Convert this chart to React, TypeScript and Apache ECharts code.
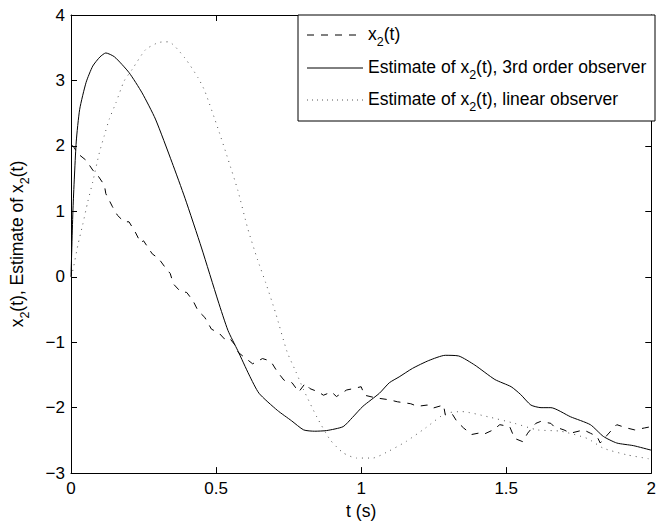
import React, { useEffect, useRef } from "react";
import * as echarts from "echarts";

const xTicks = [0, 0.5, 1, 1.5, 2];
const yTicks = [-3, -2, -1, 0, 1, 2, 3, 4];

const trueT = [0, 0.007, 0.024, 0.052, 0.075, 0.092, 0.115, 0.12, 0.143, 0.16, 0.183, 0.2, 0.223, 0.24, 0.25, 0.28, 0.302, 0.325, 0.342, 0.353, 0.376, 0.399, 0.421, 0.438, 0.461, 0.484, 0.51, 0.529, 0.545, 0.563, 0.575, 0.603, 0.626, 0.66, 0.682, 0.694, 0.711, 0.734, 0.762, 0.785, 0.807, 0.824, 0.853, 0.87, 0.898, 0.915, 0.95, 0.972, 1.0, 1.012, 1.05, 1.097, 1.125, 1.171, 1.194, 1.228, 1.245, 1.284, 1.29, 1.313, 1.33, 1.353, 1.381, 1.404, 1.421, 1.455, 1.478, 1.512, 1.529, 1.557, 1.574, 1.602, 1.619, 1.654, 1.665, 1.699, 1.722, 1.767, 1.79, 1.813, 1.824, 1.864, 1.881, 1.915, 1.943, 1.977, 2.0];
const trueX2 = [2.0, 2.0, 1.88, 1.78, 1.63, 1.55, 1.4, 1.27, 1.07, 0.94, 0.84, 0.84, 0.67, 0.52, 0.55, 0.35, 0.28, 0.14, 0.05, -0.11, -0.22, -0.24, -0.37, -0.52, -0.62, -0.8, -0.86, -0.95, -0.93, -1.03, -1.15, -1.25, -1.33, -1.25, -1.28, -1.33, -1.45, -1.58, -1.62, -1.76, -1.63, -1.71, -1.76, -1.81, -1.76, -1.83, -1.73, -1.71, -1.68, -1.81, -1.85, -1.88, -1.91, -1.94, -1.98, -1.96, -2.01, -1.96, -2.11, -2.09, -2.21, -2.31, -2.41, -2.39, -2.41, -2.34, -2.26, -2.29, -2.47, -2.52, -2.39, -2.24, -2.21, -2.24, -2.29, -2.34, -2.39, -2.34, -2.39, -2.44, -2.54, -2.34, -2.26, -2.31, -2.34, -2.31, -2.29];

const obs3T = [0, 0.007, 0.018, 0.03, 0.052, 0.075, 0.1, 0.12, 0.15, 0.2, 0.245, 0.291, 0.348, 0.393, 0.45, 0.507, 0.541, 0.575, 0.614, 0.648, 0.711, 0.76, 0.802, 0.84, 0.881, 0.938, 0.97, 1.006, 1.063, 1.097, 1.131, 1.177, 1.233, 1.29, 1.336, 1.392, 1.461, 1.517, 1.55, 1.585, 1.62, 1.654, 1.722, 1.79, 1.835, 1.881, 1.938, 2.0];
const obs3X2 = [0.0, 1.05, 2.06, 2.56, 2.97, 3.22, 3.36, 3.42, 3.36, 3.12, 2.81, 2.41, 1.75, 1.2, 0.44, -0.37, -0.82, -1.13, -1.5, -1.78, -2.04, -2.2, -2.34, -2.36, -2.35, -2.29, -2.15, -1.98, -1.78, -1.62, -1.53, -1.4, -1.28, -1.2, -1.21, -1.35, -1.57, -1.68, -1.8, -1.96, -2.0, -2.0, -2.14, -2.26, -2.44, -2.54, -2.58, -2.65];

const linT = [0, 0.007, 0.024, 0.04, 0.058, 0.075, 0.098, 0.115, 0.132, 0.155, 0.183, 0.211, 0.257, 0.302, 0.336, 0.393, 0.438, 0.461, 0.507, 0.541, 0.575, 0.609, 0.643, 0.671, 0.705, 0.745, 0.775, 0.802, 0.847, 0.893, 0.938, 0.984, 1.04, 1.097, 1.154, 1.222, 1.29, 1.347, 1.438, 1.529, 1.608, 1.688, 1.779, 1.835, 1.915, 1.99, 2.0];
const linX2 = [0, 0.11, 0.49, 0.79, 1.15, 1.45, 1.9, 2.16, 2.41, 2.66, 2.99, 3.17, 3.47, 3.58, 3.59, 3.34, 3.04, 2.84, 2.26, 1.8, 1.32, 0.74, 0.26, -0.09, -0.55, -1.15, -1.45, -1.73, -2.14, -2.49, -2.69, -2.77, -2.77, -2.66, -2.52, -2.31, -2.09, -2.06, -2.14, -2.24, -2.34, -2.36, -2.47, -2.62, -2.72, -2.78, -2.79];

const legendLabels = [
  "x{s|2}(t)",
  "Estimate of x{s|2}(t), 3rd order observer",
  "Estimate of x{s|2}(t), linear observer",
];
const xName = "t (s)";
const yName = "x{s|2}(t), Estimate of x{s|2}(t)";

const FONT = "'Liberation Sans', Arial, Helvetica, sans-serif";
const FS = 17;
const FS_TXT = 17.5;

const zip = (a: number[], b: number[]) => a.map((v, i) => [v, b[i]]);

export default function App() {
  const ref = useRef<HTMLDivElement>(null);
  useEffect(() => {
    document.body.style.margin = "0";
    if (!ref.current) return;
    const chart = echarts.init(ref.current, null, { renderer: "svg" });
    const rich = {
      s: { fontSize: 12.5, fontFamily: FONT, color: "#000", padding: [15, 0, 0, 0] },
    };
    const axisCommon = {
      axisLine: { show: true, onZero: false, lineStyle: { color: "#000", width: 1 } },
      axisTick: { show: true, inside: true, length: 6, lineStyle: { color: "#000" } },
      splitLine: { show: false },
    };
    const lgX = 298, lgY = 15, lgW = 357, lgH = 106;
    const rows = [35, 68, 100];
    const styles = [
      { lineDash: [7, 7] },
      {},
      { lineDash: [1, 4] },
    ];
    const graphic: any[] = [
      {
        type: "rect",
        z: 100,
        shape: { x: lgX, y: lgY, width: lgW, height: lgH },
        style: { fill: "#fff", stroke: "#000", lineWidth: 1 },
      },
    ];
    rows.forEach((ry, i) => {
      graphic.push({
        type: "line",
        z: 101,
        shape: { x1: 307, y1: ry, x2: 363, y2: ry },
        style: { stroke: i === 2 ? "#555" : "#000", lineWidth: 1, ...styles[i] },
      });
      graphic.push({
        type: "text",
        z: 101,
        x: 368,
        y: ry - 1,
        style: {
          text: legendLabels[i],
          fontSize: FS_TXT,
          fontFamily: FONT,
          fill: "#000",
          verticalAlign: "middle",
          align: "left",
          rich,
        },
      });
    });
    chart.setOption({
      animation: false,
      backgroundColor: "#fff",
      grid: { left: 68, right: 4, top: 15, bottom: 48, containLabel: false },
      xAxis: [
        {
          type: "value",
          min: 0,
          max: 2,
          interval: 0.5,
          position: "bottom",
          name: xName,
          nameLocation: "middle",
          nameGap: 21,
          nameTextStyle: { fontSize: FS_TXT, fontFamily: FONT, color: "#000" },
          axisLabel: {
            fontSize: FS,
            fontFamily: FONT,
            color: "#000",
            margin: 7,
            formatter: (v: number) => (xTicks.includes(v) ? String(v) : ""),
          },
          ...axisCommon,
        },
        {
          type: "value",
          min: 0,
          max: 2,
          interval: 0.5,
          position: "top",
          axisLabel: { show: false },
          ...axisCommon,
        },
      ],
      yAxis: [
        {
          type: "value",
          min: -3,
          max: 4,
          interval: 1,
          position: "left",
          name: yName,
          nameLocation: "middle",
          nameGap: 40,
          nameRotate: 90,
          nameTextStyle: { fontSize: FS_TXT, fontFamily: FONT, color: "#000", rich },
          axisLabel: {
            fontSize: FS,
            fontFamily: FONT,
            color: "#000",
            margin: 6,
            formatter: (v: number) =>
              yTicks.includes(v) ? (v < 0 ? "\u2212" + Math.abs(v) : String(v)) : "",
          },
          ...axisCommon,
        },
        {
          type: "value",
          min: -3,
          max: 4,
          interval: 1,
          position: "right",
          axisLabel: { show: false },
          ...axisCommon,
        },
      ],
      series: [
        {
          type: "line",
          data: zip(trueT, trueX2),
          showSymbol: false,
          symbol: "none",
          lineStyle: { color: "#000", width: 1, type: [7, 7] },
          z: 3,
        },
        {
          type: "line",
          data: zip(obs3T, obs3X2),
          showSymbol: false,
          symbol: "none",
          smooth: 0.2,
          lineStyle: { color: "#000", width: 1 },
          z: 3,
        },
        {
          type: "line",
          data: zip(linT, linX2),
          showSymbol: false,
          symbol: "none",
          smooth: 0.2,
          lineStyle: { color: "#555", width: 1, type: [1, 5] },
          z: 3,
        },
      ],
      graphic,
    });
    return () => chart.dispose();
  }, []);
  return <div ref={ref} style={{ width: 659, height: 525 }} />;
}
